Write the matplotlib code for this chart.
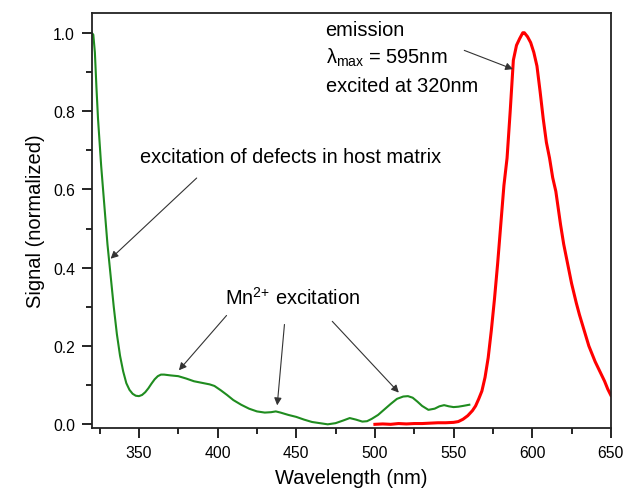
import numpy as np
import matplotlib
matplotlib.use("Agg")
import matplotlib.pyplot as plt
from matplotlib.ticker import MultipleLocator

plt.rcParams['font.family'] = ['Liberation Sans', 'DejaVu Sans']
plt.rcParams['mathtext.fontset'] = 'custom'
plt.rcParams['mathtext.rm'] = 'Liberation Sans'

# excitation spectrum (green)
wl_ex = [320, 321, 322, 323, 324, 326, 328, 330, 332, 334, 336, 338, 340, 342,
         344, 346, 348, 350, 352, 354, 356, 358, 360, 362, 364, 366, 370, 375,
         380, 385, 390, 395, 398, 402, 406, 410, 415, 420, 425, 430, 434, 437,
         440, 445, 450, 455, 460, 465, 470, 475, 480, 484, 488, 492, 495, 498,
         502, 506, 510, 514, 518, 521, 524, 527, 530, 534, 538, 541, 544, 547,
         550, 553, 556, 560]
sig_ex = [1.0, 0.995, 0.95, 0.86, 0.78, 0.66, 0.56, 0.46, 0.38, 0.30, 0.23,
          0.175, 0.135, 0.105, 0.088, 0.078, 0.073, 0.072, 0.075, 0.082, 0.092,
          0.104, 0.115, 0.123, 0.127, 0.127, 0.125, 0.123, 0.117, 0.110, 0.106,
          0.102, 0.098, 0.087, 0.075, 0.062, 0.050, 0.040, 0.033, 0.030, 0.031,
          0.033, 0.030, 0.024, 0.019, 0.012, 0.006, 0.003, 0.000, 0.003, 0.010,
          0.016, 0.012, 0.007, 0.008, 0.014, 0.024, 0.038, 0.052, 0.065, 0.071,
          0.072, 0.068, 0.058, 0.047, 0.037, 0.040, 0.046, 0.049, 0.046, 0.044,
          0.045, 0.047, 0.050]

# emission spectrum (red)
wl_em = [500, 505, 510, 515, 520, 525, 530, 535, 540, 545, 550, 553, 556, 559,
         562, 564, 566, 568, 570, 572, 574, 576, 578, 580, 582, 584, 586, 588,
         590, 592, 594, 595, 597, 599, 601, 603, 605, 607, 609, 611, 613, 615,
         618, 620, 622, 625, 628, 630, 633, 636, 640, 643, 646, 648, 650]
sig_em = [0.0, 0.001, 0.0, 0.002, 0.001, 0.002, 0.002, 0.003, 0.004, 0.004,
          0.005, 0.007, 0.013, 0.022, 0.035, 0.047, 0.065, 0.085, 0.12, 0.17,
          0.24, 0.32, 0.41, 0.51, 0.61, 0.68, 0.80, 0.93, 0.968, 0.985, 1.0,
          1.0, 0.99, 0.975, 0.95, 0.915, 0.85, 0.78, 0.72, 0.68, 0.63, 0.595,
          0.51, 0.46, 0.42, 0.36, 0.31, 0.28, 0.24, 0.20, 0.16, 0.135, 0.11,
          0.09, 0.074]

fig = plt.figure(figsize=(6.24, 4.89), dpi=100)
ax = fig.add_axes([0.147, 0.123, 0.832, 0.848])

ax.plot(wl_ex, sig_ex, color='#1f8c1f', lw=1.5)
ax.plot(wl_em, sig_em, color='#ff0000', lw=2.2)

ax.set_xlim(320, 650)
ax.set_ylim(-0.009, 1.05)
ax.xaxis.set_major_locator(MultipleLocator(50))
ax.xaxis.set_minor_locator(MultipleLocator(25))
ax.yaxis.set_major_locator(MultipleLocator(0.2))
ax.yaxis.set_minor_locator(MultipleLocator(0.1))
ax.tick_params(which='major', direction='out', length=7, width=1.2, labelsize=11.3, pad=5)
ax.tick_params(which='minor', direction='out', length=4, width=1.2)
ax.tick_params(top=False, right=False, which='both')
for s in ax.spines.values():
    s.set_linewidth(1.3)
    s.set_color('#222222')

ax.set_xlabel("Wavelength (nm)", fontsize=14.5, labelpad=6)
ax.set_ylabel("Signal (normalized)", fontsize=14.5, labelpad=6)

arr = dict(arrowstyle='-|>', color='#333333', lw=0.8, mutation_scale=11,
           shrinkA=0, shrinkB=0)

fs = 14.4
ax.text(351, 0.670, "excitation of defects in host matrix", fontsize=fs)
ax.annotate("", xy=(332, 0.423), xytext=(386.7, 0.629), arrowprops=arr)

ax.text(405, 0.3075, "Mn$^{2{+}}$ excitation", fontsize=fs)
ax.annotate("", xy=(375.4, 0.138), xytext=(405.7, 0.278), arrowprops=arr)
ax.annotate("", xy=(437.9, 0.0485), xytext=(442.5, 0.255), arrowprops=arr)
ax.annotate("", xy=(515.2, 0.081), xytext=(472.9, 0.263), arrowprops=arr)

ax.text(468.6, 0.995, "emission", fontsize=fs)
ax.text(468.6, 0.924, "λ$_{\\mathrm{max}}$ = 595nm", fontsize=fs)
ax.text(468.6, 0.850, "excited at 320nm", fontsize=fs)
ax.annotate("", xy=(587.8, 0.907), xytext=(556.8, 0.955), arrowprops=arr)

fig.savefig("out.png", dpi=100)
